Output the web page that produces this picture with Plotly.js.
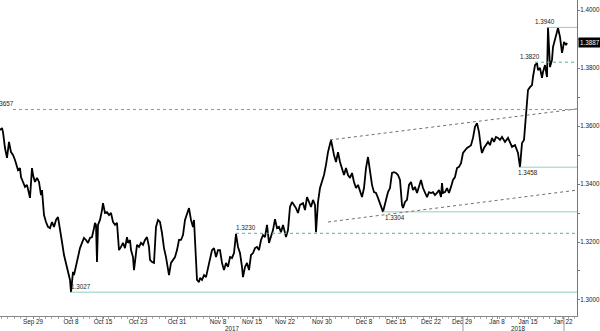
<!DOCTYPE html>
<html>
<head>
<meta charset="utf-8">
<script src="https://cdn.plot.ly/plotly-3.0.1.min.js"></script>
<style>html,body{margin:0;padding:0;background:#fff;}#chart{width:600px;height:331px;}</style>
</head>
<body>
<div id="chart"></div>
<script>
// 4-hour bar index (weekends removed) and GBP/USD close
const bars = [0,2,3,5,7,9,11,13,15,17,18,20,21,23,25,27,29,30,32,33,35,37,39,41,42,43,44,46,48,50,52,54,56,58,60,62,64,66,68,70,71,72,73,74,76,78,80,82,84,86,88,90,92,94,95,96,97,98,100,
102,103,105,107,109,111,113,115,117,118,119,121,123,125,127,128,130,131,133,134,136,137,139,141,143,145,147,149,150,152,154,156,158,160,162,164,166,168,169,171,173,175,177,179,181,183,185,187,189,191,193,194,196,197,199,200,
202,204,206,208,210,212,214,216,218,220,222,224,226,228,230,232,234,236,238,240,242,243,245,247,249,251,253,255,257,259,261,263,265,267,269,271,273,275,277,279,281,283,286,288,290,292,294,296,298,300,
303,305,307,309,311,313,315,316,318,320,322,324,326,328,331,332,334,336,338,340,342,344,346,348,350,352,354,356,358,360,362,364,366,368,370,372,374,376,378,380,383,384,386,388,390,392,394,396,398,400,
402,403,405,407,409,411,413,415,417,419,421,423,425,427,429,431,433,435,437,439,441,442,443,445,447,449,451,453,455,457,459,461,463,465,467,469,471,473,475,477,479,481,482,484,486,488,490,492,494,496,498,500,
502,505,508,512,515,518,520,522,524,526,527,528,530,532,533,535,537,538,540,542,543,545,547,548,550,552,553,555,557,558,560,561,562,563,564,566,567];
const price = [1.3586,1.3593,1.3579,1.3524,1.3490,1.3545,1.3510,1.3500,1.3483,1.3459,1.3448,1.3455,1.3424,1.3407,1.3390,1.3397,1.3362,1.3352,1.3455,1.3431,1.3407,1.3421,1.3407,1.3362,1.3379,1.3338,1.3293,1.3269,1.3252,1.3248,1.3269,1.3252,1.3276,1.3286,1.3248,1.3200,1.3155,1.3128,1.3103,1.3069,1.3027,1.3076,1.3097,1.3086,1.3121,1.3155,1.3179,1.3197,1.3214,1.3207,1.3197,1.3214,1.3217,1.3248,1.3266,1.3259,1.3131,1.3259,1.3276,
1.3310,1.3334,1.3300,1.3303,1.3293,1.3300,1.3269,1.3259,1.3266,1.3207,1.3172,1.3183,1.3197,1.3179,1.3217,1.3197,1.3207,1.3172,1.3148,1.3103,1.3162,1.3190,1.3183,1.3197,1.3190,1.3207,1.3217,1.3183,1.3138,1.3131,1.3128,1.3252,1.3276,1.3269,1.3231,1.3179,1.3148,1.3114,1.3086,1.3128,1.3138,1.3148,1.3172,1.3207,1.3207,1.3224,1.3276,1.3300,1.3317,1.3276,1.3252,1.3276,1.3162,1.3069,1.3062,1.3076,
1.3069,1.3086,1.3079,1.3114,1.3138,1.3172,1.3179,1.3148,1.3172,1.3172,1.3128,1.3103,1.3128,1.3114,1.3148,1.3145,1.3162,1.3228,1.3183,1.3162,1.3114,1.3079,1.3114,1.3128,1.3103,1.3155,1.3162,1.3179,1.3183,1.3172,1.3207,1.3224,1.3217,1.3259,1.3197,1.3217,1.3241,1.3279,1.3248,1.3252,1.3234,1.3259,1.3217,1.3241,1.3321,1.3338,1.3328,1.3317,1.3300,1.3328,
1.3334,1.3310,1.3355,1.3338,1.3321,1.3345,1.3328,1.3234,1.3338,1.3386,1.3407,1.3431,1.3466,1.3510,1.3552,1.3534,1.3500,1.3476,1.3510,1.3476,1.3455,1.3431,1.3455,1.3431,1.3421,1.3438,1.3407,1.3386,1.3397,1.3372,1.3355,1.3386,1.3455,1.3493,1.3441,1.3397,1.3372,1.3369,1.3352,1.3334,1.3304,1.3317,1.3345,1.3372,1.3386,1.3438,1.3441,1.3438,1.3431,1.3414,
1.3328,1.3317,1.3338,1.3345,1.3397,1.3407,1.3379,1.3390,1.3369,1.3390,1.3414,1.3386,1.3372,1.3355,1.3372,1.3369,1.3372,1.3362,1.3369,1.3379,1.3355,1.3403,1.3369,1.3372,1.3386,1.3369,1.3390,1.3414,1.3424,1.3455,1.3459,1.3472,1.3507,1.3517,1.3524,1.3528,1.3534,1.3559,1.3597,1.3610,1.3579,1.3524,1.3507,1.3524,1.3534,1.3545,1.3534,1.3559,1.3545,1.3562,1.3559,1.3552,
1.3562,1.3545,1.3559,1.3528,1.3534,1.3507,1.3458,1.3541,1.3552,1.3645,1.3690,1.3724,1.3734,1.3741,1.3769,1.3810,1.3817,1.3793,1.3800,1.3766,1.3786,1.3810,1.3769,1.3940,1.3803,1.3828,1.3872,1.3897,1.3921,1.3938,1.3907,1.3872,1.3852,1.3869,1.3890,1.3879,1.3887];

// date tick labels (bar index of each label)
const tickBars = [33,71,103,138,177,218,252,285,322,364,396,431,462,497,528,563];
const tickLabels = ["Sep 29","Oct 8","Oct 15","Oct 23","Oct 31","Nov 8","Nov 15","Nov 22","Nov 30","Dec 8","Dec 15","Dec 22","Dec 29","Jan 8","Jan 15","Jan 22"];
const yearLabels = ["2017","2018"];
const yearCenters = [232,518];
const yearBreaks = [463,564];

// support / resistance levels
const solidLevels = [1.3027,1.3304,1.3458,1.3940];
const solidStart = [71,383,520,548];
const dashedLevels = [1.3657,1.3230,1.3820];
const dashedStart = [13,236,535];
const levelLabelBars = [81,395,528,545,16,246,530];
// trend channel (start/end bar, start/end price)
const upperTrend = [[330,1.3552],[577,1.3659]];
const lowerTrend = [[328,1.3269],[577,1.3379]];
const lastPrice = 1.3887;

const green = '#4fb596';
const greenSolid = '#8ed1bd';
const textFont = {family:'Liberation Sans, Arial, sans-serif', size:6.3, color:'#222'};

const shapes = [];
solidLevels.forEach((v,i)=>shapes.push({type:'line',xref:'x',yref:'y',x0:solidStart[i],x1:577,y0:v,y1:v,line:{color:greenSolid,width:1}}));
dashedLevels.forEach((v,i)=>shapes.push({type:'line',xref:'x',yref:'y',x0:dashedStart[i],x1:577,y0:v,y1:v,line:{color:green,width:1,dash:'3px,3px'}}));
[upperTrend,lowerTrend].forEach(t=>shapes.push({type:'line',xref:'x',yref:'y',x0:t[0][0],y0:t[0][1],x1:t[1][0],y1:t[1][1],line:{color:'#6f6f6f',width:1,dash:'3px,3px'}}));
yearBreaks.forEach(b=>shapes.push({type:'line',xref:'x',yref:'paper',x0:b,x1:b,y0:-0.004,y1:-0.06,line:{color:'#999',width:1}}));

const annotations = [];
const allLevels = solidLevels.concat(dashedLevels);
allLevels.forEach((v,i)=>{
  const lx = levelLabelBars[i];
  annotations.push({xref:'x',yref:'y',x:lx,y:v,text:v.toFixed(4),showarrow:false,
    xanchor:(i===4?'right':'center'),yanchor:'bottom',yshift:(i===1||i===2? -11: 0),font:textFont});
});
yearLabels.forEach((t,i)=>annotations.push({xref:'x',yref:'paper',x:yearCenters[i],y:-0.039,text:t,showarrow:false,yanchor:'middle',font:textFont}));
annotations.push({xref:'paper',yref:'y',x:1,y:lastPrice,text:lastPrice.toFixed(4),showarrow:false,xanchor:'left',xshift:1,
  bgcolor:'#000',borderpad:1,font:{family:textFont.family,size:6.3,color:'#fff'}});

const trace = {x:bars,y:price,type:'scatter',mode:'lines',line:{color:'#000',width:1.8},hoverinfo:'skip'};

const layout = {
  width:600,height:331,
  margin:{l:0,r:23,t:0,b:15},
  paper_bgcolor:'#fff',plot_bgcolor:'#fff',
  showlegend:false,
  xaxis:{range:[0,577],tickmode:'array',tickvals:tickBars,ticktext:tickLabels,showgrid:false,zeroline:false,
    showline:true,linecolor:'#888',linewidth:1,ticks:'outside',ticklen:2,tickcolor:'#888',tickfont:textFont,ticklabelstandoff:-3,
    minor:{tick0:33,dtick:6.3,ticks:'outside',ticklen:2,tickcolor:'#aaa',showgrid:false}},
  yaxis:{side:'right',range:[1.29448,1.40345],tickvals:[1.30,1.32,1.34,1.36,1.38,1.40],tickformat:'.4f',showgrid:false,zeroline:false,
    showline:true,linecolor:'#777',linewidth:1,ticks:'outside',ticklen:2,tickcolor:'#777',tickfont:textFont,ticklabelstandoff:-1,
    minor:{dtick:0.01,tick0:1.30,ticks:'outside',ticklen:2,tickcolor:'#777',showgrid:false}},
  shapes:shapes,annotations:annotations
};
Plotly.newPlot('chart',[trace],layout,{staticPlot:true,displayModeBar:false});
</script>
</body>
</html>
